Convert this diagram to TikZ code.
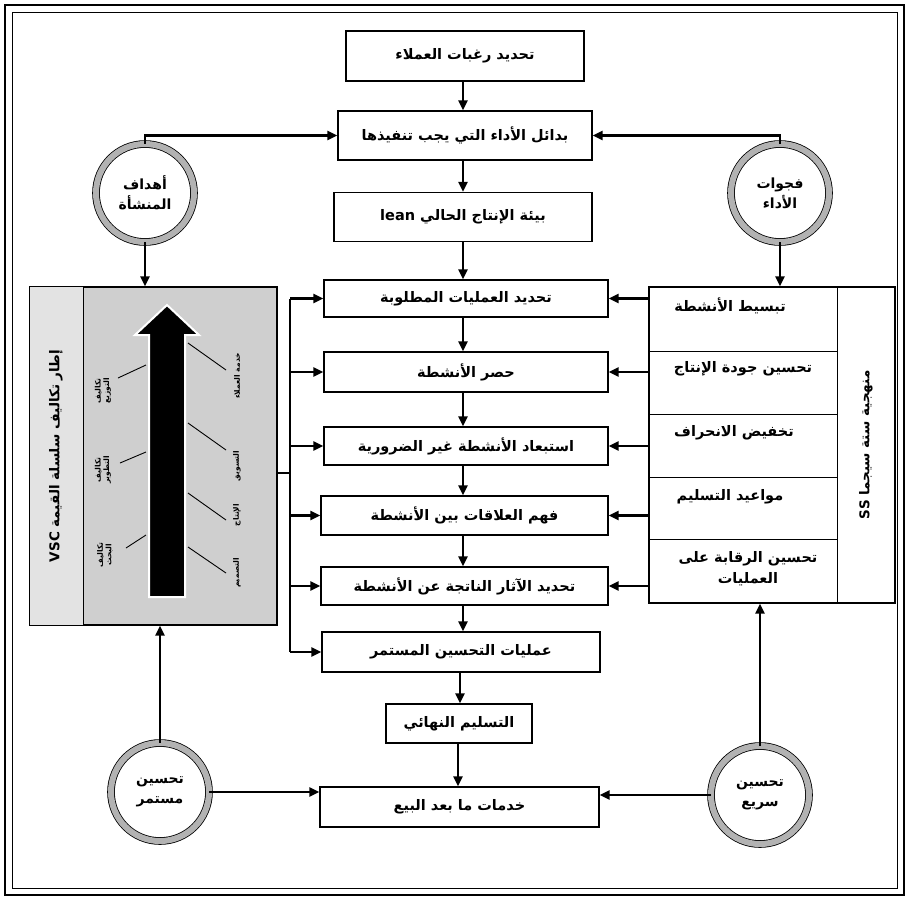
\documentclass[tikz,border=0pt]{standalone}
\usepackage{fontspec}
\usetikzlibrary{arrows.meta,calc}
\TeXXeTstate=1
\newfontfamily\arabicfont[Script=Arabic]{DejaVu Sans}
\newcommand\AR[1]{{\arabicfont\bfseries\beginR #1\endR}}
\begin{document}
\begin{tikzpicture}[x=1pt,y=-1pt,
  box/.style={draw=black, line width=1.4pt, fill=white, inner sep=2pt, font=\fontsize{14.5}{16}\selectfont},
  cir/.style={circle, draw=black, line width=0.8pt, double=gray!60, double distance=6pt, fill=white, minimum size=98pt, align=center, font=\fontsize{14}{20}\selectfont, inner sep=0pt},
  arr/.style={line width=2.4pt, -{Triangle[length=10pt,width=9pt]}},
  ln/.style={line width=2.4pt},
  lbl/.style={font=\fontsize{7.5}{8.5}\selectfont, rotate=90, align=center, inner sep=0pt},
  row/.style={font=\fontsize{14.5}{21}\selectfont, align=center, inner sep=0pt}]
\useasboundingbox (0,0) rectangle (909,900);
% frame
\draw[line width=2pt] (5,5) rectangle (904,895);
\draw[line width=0.8pt] (12,12) rectangle (897,888);

% central boxes
\node[box, minimum width=238pt, minimum height=50pt] (b1) at (465,56) {\AR{تحديد رغبات العملاء}};
\node[box, minimum width=254pt, minimum height=49pt] (b2) at (465,135.5) {\AR{بدائل الأداء التي يجب تنفيذها}};
\node[box, minimum width=258pt, minimum height=49pt] (b3) at (463,217) {\AR{بيئة الإنتاج الحالي \beginL lean\endL}};
\node[box, minimum width=284pt, minimum height=37pt] (b4) at (466,298.5) {\AR{تحديد العمليات المطلوبة}};
\node[box, minimum width=284pt, minimum height=40pt] (b5) at (466,372) {\AR{حصر الأنشطة}};
\node[box, minimum width=284pt, minimum height=38pt] (b6) at (466,446) {\AR{استبعاد الأنشطة غير الضرورية}};
\node[box, minimum width=287pt, minimum height=39pt] (b7) at (464.5,515.5) {\AR{فهم العلاقات بين الأنشطة}};
\node[box, minimum width=287pt, minimum height=38pt] (b8) at (464.5,586) {\AR{تحديد الآثار الناتجة عن الأنشطة}};
\node[box, minimum width=278pt, minimum height=40pt] (b9) at (461,652) {\AR{عمليات التحسين المستمر}};
\node[box, minimum width=146pt, minimum height=39pt] (b10) at (459,723.5) {\AR{التسليم النهائي}};
\node[box, minimum width=279pt, minimum height=40pt] (b11) at (459.5,807) {\AR{خدمات ما بعد البيع}};

% central arrows
\draw[arr] (b1.south -| 463,0) -- (b2.north -| 463,0);
\draw[arr] (b2.south -| 463,0) -- (b3.north -| 463,0);
\draw[arr] (b3.south -| 463,0) -- (b4.north -| 463,0);
\draw[arr] (b4.south -| 463,0) -- (b5.north -| 463,0);
\draw[arr] (b5.south -| 463,0) -- (b6.north -| 463,0);
\draw[arr] (b6.south -| 463,0) -- (b7.north -| 463,0);
\draw[arr] (b7.south -| 463,0) -- (b8.north -| 463,0);
\draw[arr] (b8.south -| 463,0) -- (b9.north -| 463,0);
\draw[arr] (b9.south -| 460,0) -- (b10.north -| 460,0);
\draw[arr] (b10.south -| 458,0) -- (b11.north -| 458,0);

% circles
\node[cir] (c1) at (145,193) {\AR{أهداف}\\\AR{المنشأة}};
\node[cir] (c2) at (780,193) {\AR{فجوات}\\\AR{الأداء}};
\node[cir] (c3) at (160,792) {\AR{تحسين}\\\AR{مستمر}};
\node[cir] (c4) at (760,795) {\AR{تحسين}\\\AR{سريع}};

% VSC panel
\node[draw=black, line width=1.4pt, fill=gray!38, minimum width=247pt, minimum height=338pt, inner sep=0pt] (vsc) at (153.5,456) {};
\fill[gray!22] (vsc.north west) rectangle (83,625);
\draw[line width=1.4pt] (vsc.north west) rectangle (vsc.south east);
\draw[line width=1pt] (83,287) -- (83,625);
\node[font=\fontsize{13.5}{15}\selectfont, rotate=90] (vsct) at (56,456) {\AR{إطار تكاليف سلسلة القيمة \beginL VSC\endL}};
% big arrow
\filldraw[fill=black, draw=white, line width=2pt] (149,597) -- (149,335) -- (135,335) -- (167,305) -- (199,335) -- (185,335) -- (185,597) -- cycle;
% leader lines right
\draw[line width=0.9pt] (188,343) -- (226,370);
\draw[line width=0.9pt] (188,423) -- (226,450);
\draw[line width=0.9pt] (188,493) -- (226,520);
\draw[line width=0.9pt] (188,547) -- (226,573);
\node[lbl] (r1) at (237,376) {\AR{خدمة العملاء}};
\node[lbl] (r2) at (237,466) {\AR{التسويق}};
\node[lbl] (r3) at (237,515) {\AR{الإنتاج}};
\node[lbl] (r4) at (237,573) {\AR{التصميم}};
% leader lines left
\draw[line width=0.9pt] (146,365) -- (118,378);
\draw[line width=0.9pt] (146,452) -- (120,463);
\draw[line width=0.9pt] (146,535) -- (126,548);
\node[lbl] (l1) at (103,391) {\AR{تكاليف}\\\AR{التوزيع}};
\node[lbl] (l2) at (103,470) {\AR{تكاليف}\\\AR{التطوير}};
\node[lbl] (l3) at (105,555) {\AR{تكاليف}\\\AR{البحث}};

% right panel
\node[draw=black, line width=1.4pt, fill=white, minimum width=246pt, minimum height=316pt, inner sep=0pt] (rp) at (772,445) {};
\draw[line width=1pt] (837,287) -- (837,603);
\foreach \yy in {351,414,477,539} \draw[line width=1pt] (649,\yy) -- (837,\yy);
\node[row] (p1) at (730,306) {\AR{تبسيط الأنشطة}};
\node[row] (p2) at (743,369) {\AR{تحسين جودة الإنتاج}};
\node[row] (p3) at (734,433) {\AR{تخفيض الانحراف}};
\node[row] (p4) at (730,497) {\AR{مواعيد التسليم}};
\node[row] (p5) at (748,569) {\AR{تحسين الرقابة على}\\\AR{العمليات}};
\node[font=\fontsize{13.5}{15}\selectfont, rotate=90] (rpt) at (866,445) {\AR{منهجية ستة سيجما \beginL SS\endL}};

% arrows from right panel to boxes
\draw[arr] (rp.west |- b4.east) -- (b4.east);
\draw[arr] (rp.west |- b5.east) -- (b5.east);
\draw[arr] (rp.west |- b6.east) -- (b6.east);
\draw[arr] (rp.west |- b7.east) -- (b7.east);
\draw[arr] (rp.west |- b8.east) -- (b8.east);

% bus from VSC panel
\coordinate (busT) at (290,298.5);
\coordinate (busB) at (290,652);
\coordinate (busM) at (290,473);
\draw[ln] (vsc.east |- busM) -- (busM);
\draw[ln] (busT) -- (busB);
\draw[arr] (busT) -- (b4.west);
\draw[arr] (busT |- b5.west) -- (b5.west);
\draw[arr] (busT |- b6.west) -- (b6.west);
\draw[arr] (busT |- b7.west) -- (b7.west);
\draw[arr] (busT |- b8.west) -- (b8.west);
\draw[arr] (busB) -- (b9.west);

% circles connections
\draw[arr] (c1.north) |- (b2.west);
\draw[arr] (c2.north) |- (b2.east);
\draw[arr] (c1.south) -- (c1.south |- vsc.north);
\draw[arr] (c2.south) -- (c2.south |- rp.north);
\draw[arr] (c3.north) -- (c3.north |- vsc.south);
\draw[arr] (c4.north) -- (c4.north |- rp.south);
\draw[arr] (c3.east) -- (c3.east -| b11.west);
\draw[arr] (c4.west) -- (c4.west -| b11.east);
\end{tikzpicture}
\end{document}
